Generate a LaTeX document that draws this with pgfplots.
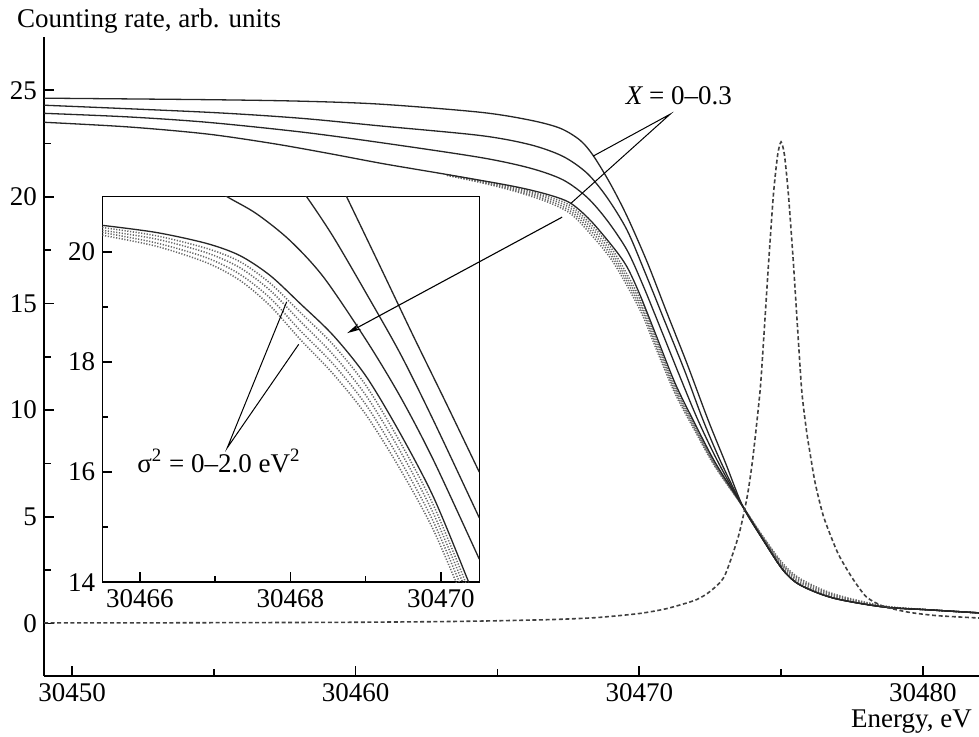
\documentclass[border=0pt]{standalone}
\usepackage{fontspec}
\setmainfont{Liberation Serif}
\usepackage{pgfplots}
\pgfplotsset{compat=1.18}
\usetikzlibrary{arrows.meta,calc}

\tikzset{lbl/.style={font=\fontsize{13.5}{16}\selectfont}}
\pgfplotsset{
  xcurve/.style={black!85, line width=0.65pt, smooth, tension=0.5},
  scurve/.style={black!60, line width=0.75pt, dash pattern=on 0.6pt off 0.8pt, smooth, tension=0.5},
  peak/.style={black!75, line width=0.8pt, dash pattern=on 2pt off 1.3pt, smooth, tension=0.4},
}

\begin{document}
\begin{tikzpicture}
\begin{axis}[
  name=main,
  scale only axis,
  width=467.5pt, height=319.5pt,
  xmin=30449.01, xmax=30481.98,
  ymin=-2.47, ymax=27.5,
  axis x line*=bottom, axis y line*=left,
  axis line style={line width=0.8pt},
  scaled x ticks=false, scaled y ticks=false,
  xtick={30450,30460,30470,30480},
  xticklabels={30450,30460,30470,30480},
  minor xtick={30455,30465,30475},
  ytick={0,5,10,15,20,25},
  minor ytick={2.5,7.5,12.5,17.5,22.5},
  tick align=inside,
  major tick length=5pt, minor tick length=3.5pt,
  tick style={line width=0.8pt, black},
  tick label style={lbl},
  /pgf/number format/assume math mode=true,
  clip mode=individual,
]
% sigma^2 curves (dotted)
\addplot[scurve] coordinates {(30463.22,21.04)(30464.39,20.76)(30465.55,20.46)(30466.75,20.03)(30467.56,19.60)(30468.27,18.75)(30469.08,17.47)(30470.03,15.22)(30470.59,13.36)(30471.26,11.15)(30471.90,9.44)(30472.67,7.51)(30473.66,5.46)(30474.37,3.95)(30475.07,2.58)(30475.67,1.88)(30476.83,1.24)(30478.60,0.78)(30480.25,0.63)(30481.98,0.49)};
\addplot[scurve] coordinates {(30463.22,21.03)(30464.39,20.73)(30465.55,20.40)(30466.75,19.95)(30467.56,19.48)(30468.27,18.60)(30469.08,17.29)(30470.03,15.04)(30470.59,13.21)(30471.26,11.03)(30471.90,9.36)(30472.67,7.46)(30473.66,5.46)(30474.37,3.99)(30475.07,2.65)(30475.67,1.95)(30476.83,1.29)(30478.60,0.80)(30480.25,0.63)(30481.98,0.49)};
\addplot[scurve] coordinates {(30463.22,21.02)(30464.39,20.70)(30465.55,20.34)(30466.75,19.86)(30467.56,19.35)(30468.27,18.44)(30469.08,17.12)(30470.03,14.87)(30470.59,13.05)(30471.26,10.90)(30471.90,9.27)(30472.67,7.40)(30473.66,5.46)(30474.37,4.02)(30475.07,2.73)(30475.67,2.03)(30476.83,1.34)(30478.60,0.81)(30480.25,0.63)(30481.98,0.49)};
\addplot[scurve] coordinates {(30463.22,21.01)(30464.39,20.68)(30465.55,20.29)(30466.75,19.77)(30467.56,19.23)(30468.27,18.28)(30469.08,16.94)(30470.03,14.69)(30470.59,12.89)(30471.26,10.78)(30471.90,9.18)(30472.67,7.35)(30473.66,5.46)(30474.37,4.06)(30475.07,2.80)(30475.67,2.10)(30476.83,1.39)(30478.60,0.82)(30480.25,0.63)(30481.98,0.49)};
% X = 0 ... 0.3 (solid)
\addplot[xcurve] coordinates {(30449.01,24.63)(30454.76,24.56)(30458.04,24.49)(30460.86,24.35)(30464.39,23.97)(30466.15,23.60)(30467.21,23.22)(30467.91,22.66)(30468.37,21.95)(30468.97,20.64)(30469.57,19.09)(30470.28,16.94)(30470.98,14.55)(30471.69,12.16)(30472.43,9.53)(30473.03,7.56)(30473.66,5.46)(30474.37,3.91)(30475.07,2.50)(30475.67,1.80)(30476.83,1.19)(30478.60,0.77)(30480.25,0.63)(30481.98,0.49)};
\addplot[xcurve] coordinates {(30449.01,24.30)(30454.76,23.97)(30458.04,23.69)(30460.86,23.33)(30464.39,22.88)(30466.15,22.45)(30467.31,21.90)(30468.16,21.11)(30468.86,19.98)(30469.57,18.44)(30470.20,16.47)(30470.91,14.13)(30471.62,11.78)(30472.25,9.53)(30472.88,7.56)(30473.66,5.46)(30474.37,3.91)(30475.07,2.50)(30475.67,1.80)(30476.83,1.19)(30478.60,0.77)(30480.25,0.63)(30481.98,0.49)};
\addplot[xcurve] coordinates {(30449.01,23.92)(30452,23.75)(30454.76,23.50)(30458.04,23.05)(30460.86,22.55)(30464.39,21.85)(30466.15,21.35)(30467.31,20.80)(30468.16,19.98)(30468.86,18.91)(30469.57,17.50)(30470.13,15.86)(30470.73,13.90)(30471.44,11.55)(30472.07,9.53)(30472.78,7.56)(30473.66,5.46)(30474.37,3.91)(30475.07,2.50)(30475.67,1.80)(30476.83,1.19)(30478.60,0.77)(30480.25,0.63)(30481.98,0.49)};
\addplot[xcurve] coordinates {(30449.01,23.50)(30452,23.28)(30454.76,22.95)(30457.09,22.50)(30459.0,22.05)(30461.0,21.55)(30463.22,21.05)(30465.55,20.50)(30466.75,20.12)(30467.56,19.72)(30468.27,18.91)(30469.08,17.64)(30469.57,16.71)(30470.03,15.39)(30470.59,13.52)(30471.26,11.27)(30471.90,9.53)(30472.67,7.56)(30473.66,5.46)(30474.37,3.91)(30475.07,2.50)(30475.67,1.80)(30476.83,1.19)(30478.60,0.77)(30480.25,0.63)(30481.98,0.49)};
% resonance line (dashed)
\addplot[peak] coordinates {(30449.01,0.02)(30452,0.02)(30455,0.03)(30458,0.04)(30460,0.05)(30463,0.08)(30465,0.12)(30467,0.18)(30468.5,0.27)(30470,0.46)(30471,0.70)(30472,1.10)(30472.5,1.50)(30473,2.20)(30473.5,4.10)(30473.8,5.90)(30474.0,7.70)(30474.26,10.90)(30474.4,13.60)(30474.55,16.70)(30474.73,20.10)(30474.88,21.97)(30475.0,22.58)(30475.12,21.97)(30475.26,20.10)(30475.43,17.00)(30475.57,14.10)(30475.73,10.90)(30475.9,9.00)(30476.02,8.00)(30476.2,6.60)(30476.5,5.00)(30477.0,3.30)(30477.5,2.15)(30478.0,1.25)(30478.6,0.80)(30479.5,0.52)(30480.5,0.36)(30481.98,0.25)};

\draw[line width=0.5pt] (axis cs:30468.37,21.91) -- (axis cs:30471.09,23.88) -- (axis cs:30467.60,19.71);
\node[lbl, anchor=base] at (axis cs:30471.40,24.35) {\itshape X\upshape{} = 0\textendash0.3};
\coordinate (arrS) at (axis cs:30467.28,19.05);
\coordinate (arrE) at (axis cs:30459.70,13.61);
\node[lbl, anchor=base west, xshift=-17pt, yshift=4.5pt] at (rel axis cs:0,1) {Counting rate, arb. units};
\node[lbl, anchor=base east, yshift=-26pt] at (rel axis cs:1,0) {Energy, eV};
\end{axis}

\begin{axis}[
  name=inset,
  at={($(main.south west)+(29.15pt,46.85pt)$)}, anchor=south west,
  scale only axis,
  width=188.5pt, height=192.8pt,
  xmin=30465.5, xmax=30470.51, ymin=14, ymax=21,
  axis background/.style={fill=white},
  axis line style={line width=0.8pt},
  scaled x ticks=false, scaled y ticks=false,
  tick pos=left,
  xtick={30466,30468,30470},
  xticklabels={30466,30468,30470},
  minor xtick={30467,30469},
  ytick={14,16,18,20},
  minor ytick={15,17,19},
  tick align=inside,
  major tick length=5pt, minor tick length=3pt,
  tick style={line width=0.8pt, black},
  tick label style={lbl},
  /pgf/number format/assume math mode=true,
  clip mode=individual,
]
\addplot[scurve] coordinates {(30465.50,20.44)(30466.22,20.29)(30466.89,20.06)(30467.33,19.82)(30467.73,19.43)(30468.13,18.90)(30468.57,18.31)(30469.01,17.56)(30469.46,16.54)(30469.90,15.40)(30470.34,13.96)};
\addplot[scurve] coordinates {(30465.50,20.39)(30466.22,20.23)(30466.89,19.98)(30467.33,19.71)(30467.73,19.30)(30468.13,18.74)(30468.57,18.13)(30469.01,17.38)(30469.46,16.38)(30469.90,15.25)(30470.34,13.83)};
\addplot[scurve] coordinates {(30465.50,20.35)(30466.22,20.16)(30466.89,19.89)(30467.33,19.59)(30467.73,19.16)(30468.13,18.57)(30468.57,17.96)(30469.01,17.21)(30469.46,16.21)(30469.90,15.10)(30470.34,13.69)};
\addplot[scurve] coordinates {(30465.50,20.30)(30466.22,20.10)(30466.89,19.80)(30467.33,19.48)(30467.73,19.02)(30468.13,18.41)(30468.57,17.78)(30469.01,17.03)(30469.46,16.05)(30469.90,14.95)(30470.34,13.55)};
\addplot[xcurve] coordinates {(30465.50,20.48)(30466.22,20.35)(30466.89,20.15)(30467.33,19.93)(30467.73,19.57)(30468.13,19.06)(30468.57,18.48)(30469.01,17.73)(30469.46,16.70)(30469.90,15.55)(30470.34,14.10)(30470.45,13.70)};
\addplot[xcurve] coordinates {(30466.90,21.22)(30467.17,20.99)(30467.55,20.69)(30467.99,20.21)(30468.44,19.54)(30469.01,18.39)(30469.46,17.37)(30469.90,16.22)(30470.51,14.42)};
\addplot[xcurve] coordinates {(30468.00,21.38)(30468.22,20.99)(30468.57,20.27)(30469.01,19.24)(30469.46,18.15)(30469.90,16.94)(30470.51,15.17)};
\addplot[xcurve] coordinates {(30468.55,21.55)(30468.75,20.99)(30469.19,19.74)(30469.63,18.48)(30470.07,17.25)(30470.51,16.00)};

\draw[line width=0.5pt] (axis cs:30467.95,19.09) -- (axis cs:30467.16,16.44) -- (axis cs:30468.11,18.32);
\node[lbl, anchor=base] at (axis cs:30467.05,16.0) {σ\textsuperscript{2} = 0\textendash2.0 eV\textsuperscript{2}};
\end{axis}

\draw[line width=0.55pt, -{Stealth[length=7pt, width=3.2pt]}] (arrS) -- (arrE);

\pgfresetboundingbox
\path[use as bounding box] ($(main.south west)+(-22pt,-30.5pt)$) rectangle ($(main.north east)+(0pt,18.5pt)$);
\end{tikzpicture}
\end{document}
